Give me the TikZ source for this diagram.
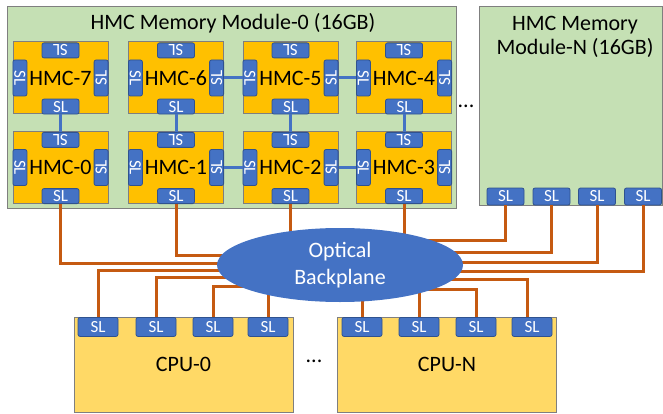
\documentclass[tikz,border=0pt]{standalone}
\usepackage{fontspec}
\setmainfont{Carlito}
\usetikzlibrary{calc,shapes.geometric}
\definecolor{modgreen}{HTML}{C5E0B4}
\definecolor{hmcorange}{HTML}{FFC000}
\definecolor{cpuyellow}{HTML}{FFD966}
\definecolor{slblue}{HTML}{4472C4}
\definecolor{slborder}{HTML}{2F528F}
\definecolor{wireor}{HTML}{C55A11}
\definecolor{boxgray}{HTML}{7F7F7F}
\pgfdeclarelayer{fg}
\pgfsetlayers{main,fg}
\newcommand\bigtxt{\fontsize{22}{25}\selectfont}
\newcommand\sltxt{\fontsize{17}{17}\selectfont}
\tikzset{
  modbox/.style={draw=boxgray, line width=1pt, fill=modgreen, inner sep=0pt},
  hmc/.style={draw=boxgray, line width=1pt, fill=hmcorange, minimum width=95pt, minimum height=72pt, inner sep=0pt, font=\bigtxt, text=black},
  cpu/.style={draw=boxgray, line width=1pt, fill=cpuyellow, minimum width=219pt, minimum height=95pt, inner sep=0pt, font=\bigtxt, text=black},
  sl/.style={draw=slborder, line width=0.8pt, fill=slblue, rounded corners=2pt, inner sep=0pt, text=white, font=\sltxt},
  slh/.style={sl, minimum width=37pt, minimum height=15pt},
  slv/.style={sl, minimum width=14pt, minimum height=36pt},
  slc/.style={sl, minimum width=40pt, minimum height=19pt},
  slm/.style={sl, minimum width=37pt, minimum height=17pt},
  bl/.style={draw=slblue, line width=3pt},
  wire/.style={draw=wireor, line width=3pt},
  title/.style={font=\bigtxt, text=black, align=center, inner sep=0pt},
}
\newcommand\hmcunit[4]{%
  \node[hmc] (#1) at (#2,#3) {#4};
  \node[slh, anchor=north] (#1t) at ([yshift=-1pt]#1.north) {\rotatebox{180}{SL}};
  \node[slh, anchor=south] (#1b) at (#1.south) {SL};
  \node[slv, anchor=west] (#1l) at (#1.west) {\rotatebox{-90}{SL}};
  \node[slv, anchor=east] (#1r) at (#1.east) {\rotatebox{90}{SL}};
}
\begin{document}
\begin{tikzpicture}[x=1pt,y=-1pt]
\useasboundingbox[fill=white] (0,0) rectangle (663,414);
% memory modules
\node[modbox, minimum width=449pt, minimum height=201pt] (mod0) at (231.5,107.5) {};
\node[title] (mod0title) at (233,23) {HMC Memory Module-0 (16GB)};
\node[modbox, minimum width=183pt, minimum height=198pt] (modN) at (570.5,106) {};
\node[title] (modNtitle) at (575,37) {HMC Memory\\[-1pt]Module-N (16GB)};
% HMC cubes
\hmcunit{h7}{60.5}{78}{HMC-7}
\hmcunit{h6}{176}{78}{HMC-6}
\hmcunit{h5}{290.5}{78}{HMC-5}
\hmcunit{h4}{404}{78}{HMC-4}
\hmcunit{h0}{60.5}{167.5}{HMC-0}
\hmcunit{h1}{176}{167.5}{HMC-1}
\hmcunit{h2}{290.5}{167.5}{HMC-2}
\hmcunit{h3}{404}{167.5}{HMC-3}
% blue links
\draw[bl] (h7b.south) -- (h0t.north);
\draw[bl] (h6b.south) -- (h1t.north);
\draw[bl] (h5b.south) -- (h2t.north);
\draw[bl] (h4b.south) -- (h3t.north);
\draw[bl] (h6r.east) -- (h5l.west);
\draw[bl] (h5r.east) -- (h4l.west);
\draw[bl] (h1r.east) -- (h2l.west);
\draw[bl] (h2r.east) -- (h3l.west);
% module-N SLs
\node[slm] (m1) at (505.5,196.5) {SL};
\node[slm] (m2) at (551.5,196.5) {SL};
\node[slm] (m3) at (597,196.5) {SL};
\node[slm] (m4) at (643,196.5) {SL};
% dots
\node[font=\bigtxt, inner sep=0pt] (dots1) at (466,106) {...};
\node[font=\bigtxt, inner sep=0pt] (dots2) at (314,361) {...};
% CPUs
\node[cpu] (cpu0) at (183.5,364.5) {CPU-0};
\node[cpu] (cpuN) at (447,364.5) {CPU-N};
\node[slc, anchor=north] (c01) at (98,317) {SL};
\node[slc, anchor=north] (c02) at (156,317) {SL};
\node[slc, anchor=north] (c03) at (213,317) {SL};
\node[slc, anchor=north] (c04) at (268,317) {SL};
\node[slc, anchor=north] (cn1) at (362,317) {SL};
\node[slc, anchor=north] (cn2) at (419,317) {SL};
\node[slc, anchor=north] (cn3) at (476,317) {SL};
\node[slc, anchor=north] (cn4) at (532,317) {SL};
% optical backplane
\begin{pgfonlayer}{fg}
\node[ellipse, fill=slblue, minimum width=246pt, minimum height=74pt, inner sep=0pt, text=white, font=\bigtxt, align=center] (bp) at (340,265) {Optical\\[2pt]Backplane};
\end{pgfonlayer}
% orange wires
\draw[wire] (h0b.south) |- ([yshift=2pt]bp.center);
\draw[wire] (h1b.south) |- ([yshift=10pt]bp.center);
\draw[wire] (h2b.south) -- (h2b.south |- bp.center);
\draw[wire] (h3b.south) -- (h3b.south |- bp.center);
\draw[wire] (m1.south) |- ([yshift=25pt]bp.center);
\draw[wire] (m2.south) |- ([yshift=13pt]bp.center);
\draw[wire] (m3.south) |- ([yshift=3pt]bp.center);
\draw[wire] (m4.south) |- ([yshift=-6pt]bp.center);
\draw[wire] (c01.north) |- ([yshift=-5pt]bp.center);
\draw[wire] (c02.north) |- ([yshift=-12pt]bp.center);
\draw[wire] (c03.north) |- ([yshift=-21pt]bp.center);
\draw[wire] (c04.north) -- (c04.north |- bp.center);
\draw[wire] (cn1.north) -- (cn1.north |- bp.center);
\draw[wire] (cn2.north) -- (cn2.north |- bp.center);
\draw[wire] (cn3.north) |- ([yshift=-24pt]bp.center);
\draw[wire] ([xshift=-5pt]cn4.north) |- ([yshift=-14pt]bp.center);
\end{tikzpicture}
\end{document}
